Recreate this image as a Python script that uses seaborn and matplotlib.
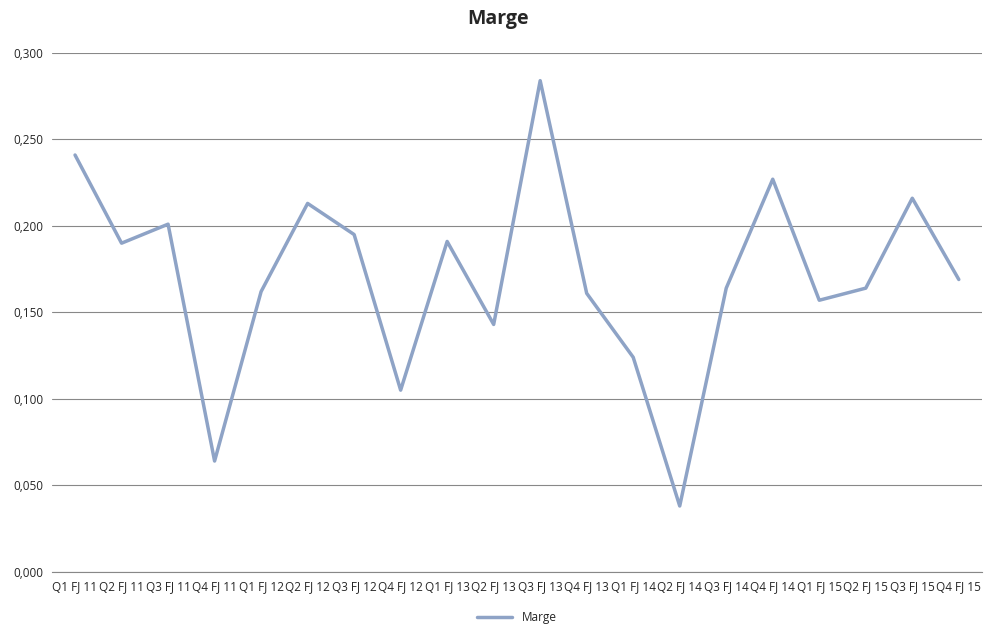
import matplotlib
matplotlib.use("Agg")
import matplotlib.pyplot as plt
import seaborn as sns
import pandas as pd

categories = [f"Q{q} FJ {y}" for y in range(11, 16) for q in range(1, 5)]
values = [0.241, 0.190, 0.201, 0.064, 0.162, 0.213, 0.195, 0.105, 0.191, 0.143,
          0.284, 0.161, 0.124, 0.038, 0.164, 0.227, 0.157, 0.164, 0.216, 0.169]

sns.set_style("white")
plt.rcParams['font.family'] = ['Open Sans', 'DejaVu Sans']
df = pd.DataFrame({"x": range(len(categories)), "Marge": values})

fig = plt.figure(figsize=(9.96, 6.31), dpi=100)
ax = fig.add_axes([0.052, 0.094, 0.934, 0.822])
sns.lineplot(data=df, x="x", y="Marge", ax=ax, color="#8EA3C6", linewidth=2.5, label="Marge")
ax.set_xlim(-0.5, len(categories) - 0.5)
ax.set_ylim(0, 0.3)
ax.set_yticks([0, 0.05, 0.1, 0.15, 0.2, 0.25, 0.3])
ax.set_yticklabels([f"{v:.3f}".replace(".", ",") for v in ax.get_yticks()], fontsize=8.5)
ax.set_xticks(range(len(categories)))
ax.set_xticklabels(categories, fontsize=8.5)
ax.tick_params(axis='both', length=0, pad=6)
ax.grid(axis='y', color="#888888", linewidth=0.8)
for s in ["top", "right", "left"]:
    ax.spines[s].set_visible(False)
ax.spines["bottom"].set_color("#888888")
ax.set_xlabel("")
ax.set_ylabel("")
fig.suptitle("Marge", fontsize=14, fontweight="bold", y=0.985)
ax.legend(loc="upper center", bbox_to_anchor=(0.5, -0.055), frameon=False, fontsize=8.5, handlelength=3)
fig.savefig("out.png", dpi=100, facecolor="white")
